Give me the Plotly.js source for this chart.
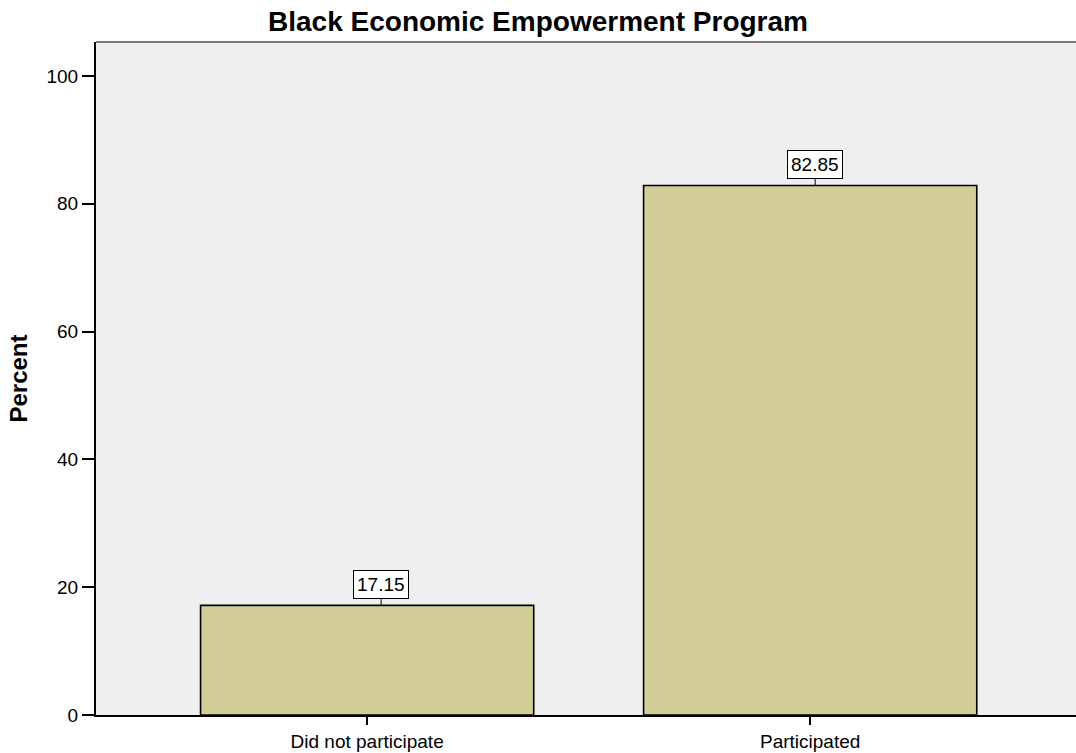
<!DOCTYPE html>
<html>
<head>
<meta charset="utf-8">
<script src="https://cdn.plot.ly/plotly-3.0.1.min.js"></script>
<style>html,body{margin:0;padding:0;overflow:hidden;background:#fff}</style>
</head>
<body>
<div id="chart" style="width:1076px;height:753px"></div>
<script>
const categories = ["Did not participate", "Participated"];
const percents = [17.15, 82.85];
const yTicks = [0, 20, 40, 60, 80, 100];

const FONT = "Liberation Sans, Arial, sans-serif";

const trace = {
  type: "bar",
  x: categories,
  y: percents,
  width: 0.752,
  marker: {color: "#d3ce97", line: {color: "#000", width: 1.6}},
  hoverinfo: "none"
};

const labelShift = [14, 5];
const annotations = categories.map((c, i) => ({
  x: c, y: percents[i], xref: "x", yref: "y",
  text: percents[i].toFixed(2),
  showarrow: true, arrowhead: 0, arrowwidth: 1, arrowcolor: "#000",
  ax: 0, ay: -21, xshift: labelShift[i],
  bgcolor: "#fff", bordercolor: "#000", borderwidth: 1, borderpad: 3,
  font: {family: FONT, size: 19, color: "#000"}
}));

const layout = {
  width: 1076, height: 753,
  margin: {l: 96, r: 0, t: 42, b: 38},
  paper_bgcolor: "#fff",
  plot_bgcolor: "#efefef",
  showlegend: false,
  title: {
    text: "<b>Black Economic Empowerment Program</b>",
    font: {family: FONT, size: 28, color: "#000"},
    x: 0.5, xanchor: "center", y: 0.972, yanchor: "middle"
  },
  xaxis: {
    type: "category",
    range: [-0.612, 1.600],
    showgrid: false, zeroline: false,
    showline: true, linecolor: "#000", linewidth: 2,
    ticks: "outside", ticklen: 8, tickwidth: 2, tickcolor: "#000",
    tickfont: {family: FONT, size: 19, color: "#000"}
  },
  yaxis: {
    range: [0, 105.3],
    tickvals: yTicks,
    ticktext: yTicks.map(String),
    showgrid: false, zeroline: false,
    showline: true, linecolor: "#000", linewidth: 2,
    ticks: "outside", ticklen: 12, tickwidth: 2, tickcolor: "#000",
    tickfont: {family: FONT, size: 19, color: "#000"},
    title: {text: "<b>Percent</b>", font: {family: FONT, size: 24, color: "#000"}, standoff: 12}
  },
  shapes: [{
    type: "line", xref: "paper", yref: "paper",
    x0: 0, x1: 1, y0: 1, y1: 1,
    line: {color: "#7a7a7a", width: 2}
  }],
  annotations: annotations
};

Plotly.newPlot("chart", [trace], layout, {staticPlot: true, displayModeBar: false});
</script>
</body>
</html>
